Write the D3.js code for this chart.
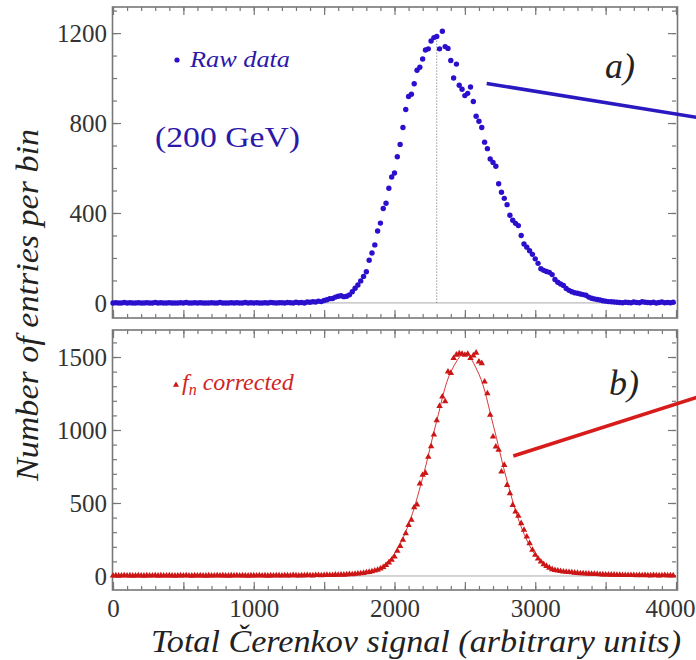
<!DOCTYPE html>
<html><head><meta charset="utf-8">
<script src="https://cdn.jsdelivr.net/npm/d3@7"></script>
<style>body{margin:0;background:#fff}svg{display:block}</style>
</head><body>
<svg id="chart" width="696" height="660"></svg>
<script>
// ---------- data ----------
const binStart = 0, binWidth = 20;
const rawCounts = [
  0,1,0,0,2,0,1,0,0,1,
  0,0,1,0,0,2,0,1,0,0,
  1,0,0,0,1,0,2,0,0,1,
  0,1,0,0,0,1,0,0,2,0,
  0,0,1,0,1,0,0,2,0,1,
  0,1,0,0,1,0,2,1,0,1,
  1,0,2,1,0,3,1,2,0,4,
  3,5,4,8,6,11,14,19,20,26,
  30,32,28,30,36,50,65,80,98,118,
  139,190,222,258,320,355,420,443,510,560,
  578,650,705,780,860,918,928,975,1035,1048,
  1085,1125,1130,1165,1180,1185,1130,1208,1140,1132,
  1078,1000,1062,968,950,922,932,960,896,830,
  808,780,715,686,640,625,608,530,492,465,
  437,390,368,354,344,300,262,248,232,216,
  196,176,152,145,140,136,126,104,92,84,
  78,64,56,50,45,43,40,37,34,26,
  21,18,15,13,10,8,6,5,4,3,
  2,1,3,2,1,4,2,1,5,3,
  2,1,3,0,2,4,1,2,1,3
];
const correctedCounts = [
  2,3,1,2,4,2,3,1,2,3,
  2,1,3,2,2,4,1,3,2,2,
  3,2,1,2,3,2,4,2,1,3,
  2,3,2,1,3,2,2,4,2,3,
  2,1,3,2,4,2,3,2,1,3,
  3,2,4,2,3,1,3,2,4,3,
  2,4,3,2,5,3,2,4,3,5,
  4,3,5,6,4,5,7,5,6,8,
  7,9,8,10,12,11,14,16,18,20,
  24,27,31,36,42,50,60,75,92,110,
  132,172,205,247,292,349,384,470,488,632,
  692,705,815,888,968,1066,1164,1228,1196,1399,
  1390,1492,1515,1525,1521,1514,1521,1492,1510,1529,
  1468,1457,1331,1251,1103,954,886,863,714,760,
  623,566,486,440,411,361,315,269,224,178,
  144,118,98,80,68,56,46,40,36,33,
  30,28,26,24,22,20,18,17,16,15,
  14,13,12,11,10,9,9,8,8,7,
  7,6,6,5,6,5,4,5,4,5,
  4,3,5,4,3,4,5,3,4,3
];
const fitSignal = [0,500,1000,1400,1500,1600,1700,1800,1900,2000,2100,2200,2300,2400,2500,2600,2700,2800,2900,3000,3100,3200,3300,3400,3500,3600,3800,4000];
const fitValues = [3,3,3,3,3,4,8,20,55,154,353,672,1063,1397,1525,1382,1040,650,337,145,58,28,18,12,9,6,4,3];
const xTicks = [0,1000,2000,3000,4000];
const rawYTicks = [0,400,800,1200];
const corrYTicks = [0,500,1000,1500];
const rawPeak = {signal: 2300, value: 1185};
const rawPointer = {from: [2655, 976], to: [4200, 820]};
const corrPointer = {from: [2844, 822], to: [4200, 1240]};

// ---------- styles ----------
const blue = "#2a10cc", blueText = "#2d18a8";
const red = "#cc1616", redText = "#d02424";
const serif = "'Liberation Serif','Times New Roman',Times,serif";
const frameColor = "#777";

const svg = d3.select("#chart");
const left = 113, right = 676;
const x = d3.scaleLinear().domain([0, 4000]).range([left, right]);

const panels = [
  {top: 7, bottom: 318, domain: [-67, 1316], yTicks: rawYTicks, minorStep: 100, data: rawCounts, showX: false},
  {top: 330, bottom: 590, domain: [-96, 1685], yTicks: corrYTicks, minorStep: 100, data: correctedCounts, showX: true}
];

panels.forEach(p => {
  const y = d3.scaleLinear().domain(p.domain).range([p.bottom, p.top]);
  p.y = y;
  const g = svg.append("g");

  g.append("line").attr("x1", left).attr("x2", right)
    .attr("y1", y(0)).attr("y2", y(0))
    .attr("stroke", "#aaa").attr("stroke-width", 1);

  const minorX = d3.range(0, 4001, 100);
  const majorX = d3.range(0, 4001, 500);
  const mk = (axis, vals, size, yPos) => {
    const a = g.append("g").attr("transform", `translate(0,${yPos})`)
      .call(axis(x).tickValues(vals).tickSize(size).tickFormat(""));
    a.select(".domain").remove();
    a.selectAll("line").attr("stroke", frameColor).attr("stroke-width", 1.2);
  };
  mk(d3.axisBottom, minorX, -4, p.bottom);
  mk(d3.axisBottom, majorX, -8, p.bottom);
  mk(d3.axisTop, minorX, -4, p.top);
  mk(d3.axisTop, majorX, -8, p.top);
  if (p.showX) {
    const a = g.append("g").attr("transform", `translate(0,${p.bottom})`)
      .call(d3.axisBottom(x).tickValues(xTicks).tickSize(0).tickPadding(9).tickFormat(d3.format("d")));
    a.select(".domain").remove();
    a.selectAll("text").attr("font-family", serif).attr("font-size", 25).attr("fill", "#333");
    a.selectAll(".tick").filter(d => d === 4000).select("text")
      .attr("text-anchor", "end").attr("x", 695 - x(4000));
  }
  const minorY = d3.range(0, p.domain[1], p.minorStep);
  const mky = (axis, vals, size, xPos) => {
    const a = g.append("g").attr("transform", `translate(${xPos},0)`)
      .call(axis(y).tickValues(vals).tickSize(size).tickFormat(""));
    a.select(".domain").remove();
    a.selectAll("line").attr("stroke", frameColor).attr("stroke-width", 1.2);
  };
  mky(d3.axisLeft, minorY, -4, left);
  mky(d3.axisLeft, p.yTicks, -8, left);
  mky(d3.axisRight, minorY, -4, right);
  mky(d3.axisRight, p.yTicks, -8, right);
  const ya = g.append("g").attr("transform", `translate(${left},0)`)
    .call(d3.axisLeft(y).tickValues(p.yTicks).tickSize(0).tickPadding(6).tickFormat(d3.format("d")));
  ya.select(".domain").remove();
  ya.selectAll("text").attr("font-family", serif).attr("font-size", 25).attr("fill", "#333").attr("dy", "0.35em");

  g.append("rect").attr("x", left - 0.5).attr("y", p.top).attr("width", right - left + 2)
    .attr("height", p.bottom - p.top).attr("fill", "none")
    .attr("stroke", frameColor).attr("stroke-width", 1.6);

  p.g = g;
});

const P0 = panels[0], P1 = panels[1];
P0.g.append("line")
  .attr("x1", x(rawPeak.signal)).attr("x2", x(rawPeak.signal))
  .attr("y1", P0.y(0)).attr("y2", P0.y(rawPeak.value))
  .attr("stroke", "#999").attr("stroke-width", 1).attr("stroke-dasharray", "1.5,1.5");

P0.g.append("g").selectAll("circle").data(rawCounts).join("circle")
  .attr("cx", (d, i) => x(binStart + i * binWidth))
  .attr("cy", d => P0.y(d))
  .attr("r", 2.7).attr("fill", blue);

const fitLine = d3.line().x(d => x(d[0])).y(d => P1.y(d[1])).curve(d3.curveCatmullRom);
P1.g.append("path").datum(fitSignal.map((s, i) => [s, fitValues[i]]))
  .attr("d", fitLine).attr("fill", "none").attr("stroke", red).attr("stroke-width", 1).attr("opacity", 0.85);

const tri = d3.symbol().type(d3.symbolTriangle).size(18);
P1.g.append("g").selectAll("path").data(correctedCounts).join("path")
  .attr("d", tri)
  .attr("transform", (d, i) => `translate(${x(binStart + i * binWidth)},${P1.y(d)})`)
  .attr("fill", red);

svg.append("line")
  .attr("x1", x(rawPointer.from[0])).attr("y1", P0.y(rawPointer.from[1]))
  .attr("x2", x(rawPointer.to[0])).attr("y2", P0.y(rawPointer.to[1]))
  .attr("stroke", "#2a18c0").attr("stroke-width", 3.5);
svg.append("line")
  .attr("x1", x(corrPointer.from[0])).attr("y1", P1.y(corrPointer.from[1]))
  .attr("x2", x(corrPointer.to[0])).attr("y2", P1.y(corrPointer.to[1]))
  .attr("stroke", "#d81c1c").attr("stroke-width", 3.5);

// legends & labels
svg.append("circle").attr("cx", 177).attr("cy", 60).attr("r", 2.6).attr("fill", blue);
svg.append("text").attr("x", 190).attr("y", 67).attr("font-family", serif)
  .attr("font-style", "italic").attr("font-size", 23).attr("fill", blueText)
  .attr("textLength", 100).attr("lengthAdjust", "spacingAndGlyphs").text("Raw data");
svg.append("text").attr("x", 155).attr("y", 147).attr("font-family", serif)
  .attr("font-size", 30).attr("fill", blueText)
  .attr("textLength", 145).attr("lengthAdjust", "spacingAndGlyphs").text("(200 GeV)");

svg.append("path").attr("d", d3.symbol().type(d3.symbolTriangle).size(16))
  .attr("transform", "translate(176,385)").attr("fill", red);
const ft = svg.append("text").attr("x", 182).attr("y", 390).attr("font-family", serif)
  .attr("font-style", "italic").attr("font-size", 24).attr("fill", redText);
ft.append("tspan").text("f");
ft.append("tspan").attr("dy", 5).attr("font-size", 16).text("n");
ft.append("tspan").attr("dy", -5).text(" corrected");

svg.append("text").attr("x", 605).attr("y", 78).attr("font-family", serif)
  .attr("font-style", "italic").attr("font-size", 36).attr("fill", "#222").text("a)");
svg.append("text").attr("x", 609).attr("y", 395).attr("font-family", serif)
  .attr("font-style", "italic").attr("font-size", 36).attr("fill", "#222").text("b)");

svg.append("text").attr("transform", "translate(38,305) rotate(-90)")
  .attr("text-anchor", "middle").attr("font-family", serif).attr("font-style", "italic")
  .attr("font-size", 32).attr("fill", "#222")
  .attr("textLength", 352).attr("lengthAdjust", "spacingAndGlyphs").text("Number of entries per bin");
svg.append("text").attr("x", 416).attr("y", 652)
  .attr("text-anchor", "middle").attr("font-family", serif).attr("font-style", "italic")
  .attr("font-size", 32).attr("fill", "#222")
  .attr("textLength", 530).attr("lengthAdjust", "spacingAndGlyphs").text("Total Čerenkov signal (arbitrary units)");
</script>
</body></html>
